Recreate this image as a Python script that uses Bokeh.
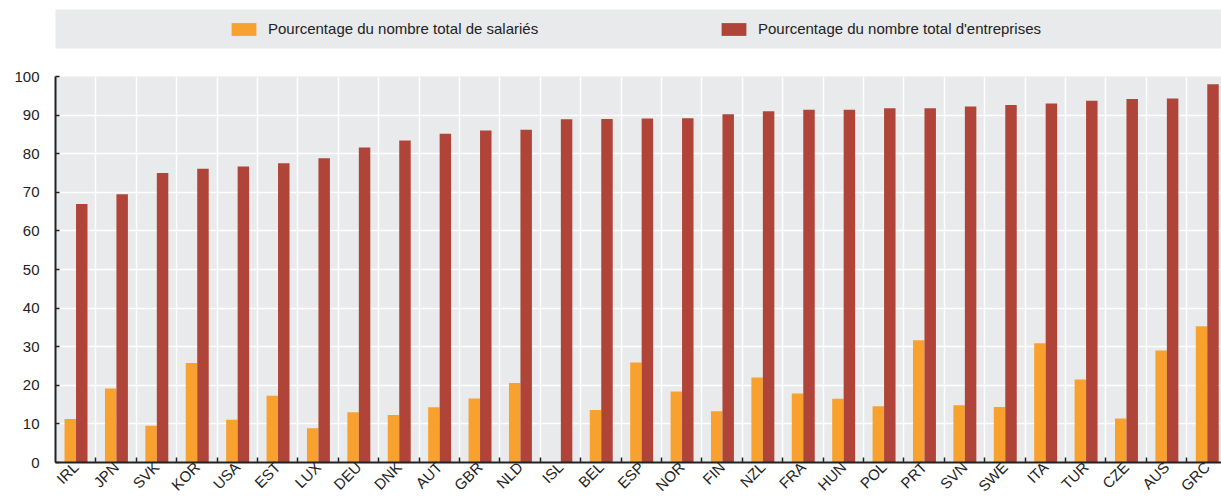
import math
from bokeh.plotting import figure
from bokeh.models import Range1d, FixedTicker, Legend, LegendItem, ColumnDataSource
from bokeh.transform import dodge
from bokeh.layouts import column
from bokeh.embed import file_html
from bokeh.resources import INLINE

countries = ["IRL", "JPN", "SVK", "KOR", "USA", "EST", "LUX", "DEU", "DNK", "AUT",
             "GBR", "NLD", "ISL", "BEL", "ESP", "NOR", "FIN", "NZL", "FRA", "HUN",
             "POL", "PRT", "SVN", "SWE", "ITA", "TUR", "CZE", "AUS", "GRC"]
salaries = [11.3, 19.2, 9.5, 25.8, 11.1, 17.3, 8.9, 13.0, 12.3, 14.3,
            16.6, 20.6, float("nan"), 13.6, 25.9, 18.4, 13.3, 22.0, 17.9, 16.5,
            14.6, 31.7, 14.8, 14.4, 30.9, 21.5, 11.4, 29.0, 35.3]
entreprises = [67.0, 69.5, 75.0, 76.1, 76.7, 77.5, 78.8, 81.6, 83.4, 85.2,
               86.0, 86.2, 88.9, 89.0, 89.1, 89.2, 90.2, 91.0, 91.4, 91.4,
               91.8, 91.8, 92.2, 92.6, 93.0, 93.7, 94.2, 94.3, 98.0]
legend_labels = ["Pourcentage du nombre total de salariés",
                 "Pourcentage du nombre total d'entreprises"]
y_ticks = list(range(0, 101, 10))

FONT = "Liberation Sans Narrow, Arial Narrow, Liberation Sans, sans-serif"
ORANGE = "#F9A12F"
RED = "#B14438"
BG = "#E9EAEC"
INK = "#222222"

idx = list(range(len(countries)))
src = ColumnDataSource(dict(x=idx, sal=salaries, ent=entreprises))

# ---- legend strip ----
t = figure(width=1221, height=60, x_range=Range1d(0, 1), y_range=Range1d(0, 1),
           output_backend="svg", toolbar_location=None,
           x_axis_location=None, y_axis_location=None,
           min_border_left=55, min_border_right=0, min_border_top=9, min_border_bottom=12,
           background_fill_color=BG, border_fill_color="white", outline_line_color=None)
t.grid.visible = False
# legend-only renderers (placed outside the visible range)
r1 = t.vbar(x=[10], top=[10], width=0.1, fill_color=ORANGE, line_color=None)
r2 = t.vbar(x=[10], top=[10], width=0.1, fill_color=RED, line_color=None)
leg = Legend(items=[LegendItem(label=legend_labels[0], renderers=[r1]),
                    LegendItem(label=legend_labels[1], renderers=[r2])],
             orientation="horizontal", location=(173, 11),
             glyph_width=31, glyph_height=16, label_standoff=9, label_width=300,
             spacing=150, padding=0, margin=0, background_fill_alpha=0,
             border_line_color=None, label_text_font=FONT, label_text_font_size="15px",
             label_text_color=INK)
t.add_layout(leg, "center")

# ---- main chart ----
p = figure(width=1221, height=443, x_range=Range1d(-0.5, 28.36), y_range=Range1d(0, 100),
           output_backend="svg", toolbar_location=None,
           min_border_left=53, min_border_right=0, min_border_top=16, min_border_bottom=36,
           background_fill_color=BG, border_fill_color="white", outline_line_color=None)

p.vbar(x=dodge("x", -0.134), top="sal", width=0.284, source=src,
       fill_color=ORANGE, line_color=None)
p.vbar(x=dodge("x", 0.150), top="ent", width=0.284, source=src,
       fill_color=RED, line_color=None)

p.xaxis.ticker = FixedTicker(ticks=idx, minor_ticks=[i + 0.5 for i in idx[:-1]])
p.xaxis.major_label_overrides = {i: c for i, c in enumerate(countries)}
p.xaxis.major_label_orientation = math.pi / 4
p.xaxis.major_tick_in = 0
p.xaxis.major_tick_out = 0
p.xaxis.minor_tick_in = 5
p.xaxis.minor_tick_out = 0
p.xaxis.minor_tick_line_width = 1.5
p.xaxis.minor_tick_line_color = INK
p.xaxis.major_label_standoff = 2

p.yaxis.ticker = FixedTicker(ticks=y_ticks)
p.yaxis.major_tick_in = 4
p.yaxis.major_tick_out = 0
p.yaxis.minor_tick_line_color = None
p.yaxis.major_tick_line_width = 1.5
p.yaxis.major_tick_line_color = INK
p.yaxis.major_label_standoff = 16

for ax in (p.xaxis, p.yaxis):
    ax.axis_line_width = 2
    ax.axis_line_color = INK
    ax.major_label_text_font = FONT
    ax.major_label_text_font_size = "15px"
    ax.major_label_text_color = INK

p.xgrid.ticker = FixedTicker(ticks=[i + 0.5 for i in idx])
p.ygrid.ticker = FixedTicker(ticks=y_ticks)
p.grid.grid_line_color = "white"
p.grid.grid_line_width = 1.5

layout = column(t, p, spacing=0)
open("out.html", "w").write(file_html(layout, INLINE))
